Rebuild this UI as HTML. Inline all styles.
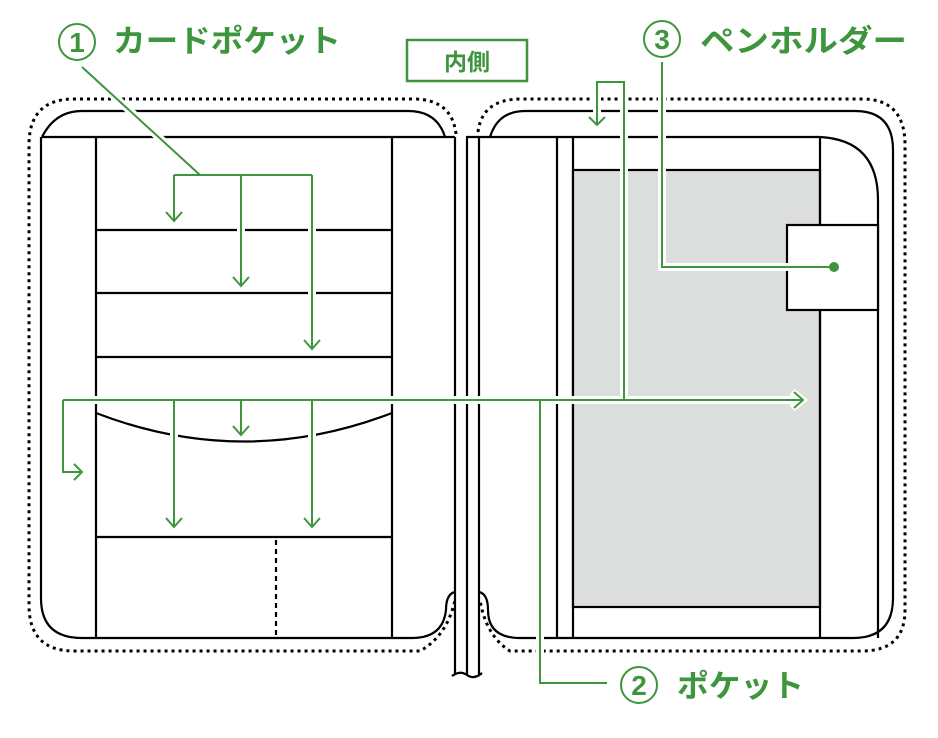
<!DOCTYPE html>
<html><head><meta charset="utf-8"><style>
html,body{margin:0;padding:0;background:#fff;}
svg{display:block;}
text{font-family:"Liberation Sans","Noto Sans CJK JP",sans-serif;font-weight:bold;fill:#3d953d;}
</style></head><body>
<svg width="938" height="738" viewBox="0 0 938 738" xmlns="http://www.w3.org/2000/svg">
<g fill="none" stroke="#000" stroke-width="3" stroke-dasharray="3 4">
 <path d="M456 134 Q452 99 413 99 H74 Q29 99 29 145 V605 Q29 651 74 651 H420 Q447 636 455 600"/>
 <path d="M478 132 Q482 99 521 99 H862 Q905 99 905 145 V610 Q905 651 862 651 H510 Q486 636 480 600"/>
</g>
<g fill="none" stroke="#000" stroke-width="2.2">
 <path d="M42 137 Q55 111 82 111 H408 Q437 111 445 137"/>
 <path d="M42 137 H455"/>
 <path d="M41 137 V598 Q41 638 82 638 H412 Q443 638 446 610 Q446 594 455 592"/>
 <path d="M96 137 V638 M392 137 V638"/>
 <path d="M96 230 H392 M96 293 H392 M96 357 H392 M96 537 H392"/>
 <path d="M96 413 Q244 470 392 413"/>
 <path d="M276 540 V636" stroke-dasharray="5 4"/>
 <path d="M455 137 V675 M467 137 V675 M479 137 V675"/>
 <path d="M452 676 Q460 670 467 675 Q474 680 482 673"/>
 <path d="M490 137 Q498 111 525 111 H855 Q893 111 893 150 V598 Q893 638 853 638 H520 Q488 638 488 610 Q488 594 479 592"/>
 <path d="M466 137 H820 Q878 140 878 200 V638"/>
 <path d="M557 137 V638 M573 137 V638"/>
 <rect x="573" y="170" width="247" height="437" fill="#dcdedd"/>
 <path d="M820 137 V225 M820 310 V638"/>
 <rect x="787" y="225" width="91" height="85" fill="#fff"/>
</g>
<g fill="none" stroke-linejoin="miter">
 <g stroke="#fff" stroke-width="8">
  <path d="M82 67 L200 175 M174 175 H312 M174 175 V220 M241 175 V285 M312 175 V348"/>
  <path d="M63 400 H800 M63 400 V472 H82 M174 400 V527 M241 400 V434 M312 400 V527"/>
  <path d="M540 400 V683 H607"/>
  <path d="M597 125 V82 H624 V400"/>
  <path d="M662 62 V267 H834"/>
  <path d="M792 392 L802 400 L792 408"/>
 </g>
 <g stroke="#3d953d" stroke-width="2">
  <path d="M82 67 L200 175 M174 175 H312 M174 175 V220 M241 175 V285 M312 175 V348"/>
  <path d="M166 212 L174 221 L182 212 M233 277 L241 286 L249 277 M304 340 L312 349 L320 340"/>
  <path d="M63 400 H802 M63 400 V472 H82 M174 400 V527 M241 400 V434 M312 400 V527"/>
  <path d="M74 464 L82 472 L74 480 M233 426 L241 435 L249 426 M166 518 L174 527 L182 518 M304 518 L312 527 L320 518 M794 392 L803 400 L794 408"/>
  <path d="M540 400 V683 H607"/>
  <path d="M597 125 V82 H624 V400 M589 117 L597 125 L605 117"/>
  <path d="M662 62 V267 H834"/>
 </g>
 <circle cx="834" cy="267" r="5" fill="#3d953d"/>
 <circle cx="77" cy="42" r="18" stroke="#3d953d" stroke-width="2"/>
 <circle cx="662" cy="39" r="18" stroke="#3d953d" stroke-width="2"/>
 <circle cx="639" cy="685" r="18" stroke="#3d953d" stroke-width="2"/>
 <rect x="407" y="40" width="120" height="41" stroke="#3d953d" stroke-width="2.5"/>
</g>
<text x="77" y="52" font-size="28" text-anchor="middle">1</text>
<text x="662" y="49" font-size="28" text-anchor="middle">3</text>
<text x="639" y="695" font-size="28" text-anchor="middle">2</text>
<text x="113" y="52" font-size="31" textLength="228" lengthAdjust="spacingAndGlyphs">カードポケット</text>
<text x="700" y="52" font-size="31" textLength="207" lengthAdjust="spacingAndGlyphs">ペンホルダー</text>
<text x="677" y="697" font-size="31" textLength="127" lengthAdjust="spacingAndGlyphs">ポケット</text>
<text x="467" y="70" font-size="23" text-anchor="middle">内側</text>
</svg>
</body></html>
